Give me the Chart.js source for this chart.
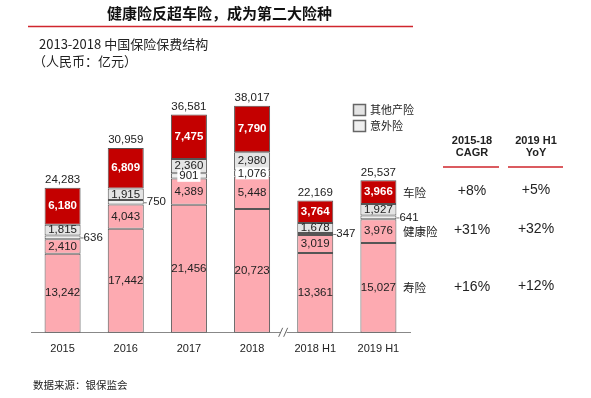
<!DOCTYPE html>
<html>
<head>
<meta charset="utf-8">
<script src="https://cdn.jsdelivr.net/npm/chart.js@4"></script>
<style>
  html, body { margin: 0; padding: 0; background: #fff; }
  #wrap { width: 591px; height: 398px; position: relative; }
</style>
</head>
<body>
<div id="wrap"><canvas id="myChart"></canvas></div>
<script>
var categories = ["2015", "2016", "2017", "2018", "2018 H1", "2019 H1"];
var lifeIns   = [13242, 17442, 21456, 20723, 13361, 15027];   // 寿险
var healthIns = [2410, 4043, 4389, 5448, 3019, 3976];         // 健康险
var accIns    = [636, 750, 901, 1076, 347, 641];              // 意外险
var otherIns  = [1815, 1915, 2360, 2980, 1678, 1927];         // 其他产险
var autoIns   = [6180, 6809, 7475, 7790, 3764, 3966];         // 车险
var yMax = 40000;

var rowNames = ["车险", "健康险", "寿险"];
var cagr = ["+8%", "+31%", "+16%"];
var yoy = ["+5%", "+32%", "+12%"];

var FONT = "'Liberation Sans', Arial, 'Noto Sans CJK SC', sans-serif";
var CJK = "'Noto Sans CJK SC', 'Liberation Sans', sans-serif";

function fmt(v) { return v.toLocaleString("en-US"); }

var labelPlugin = {
  id: "labels",
  afterDatasetsDraw: function(chart) {
    var ctx = chart.ctx;
    var xs = chart.scales.x, ys = chart.scales.y;
    var series = [lifeIns, healthIns, accIns, otherIns, autoIns];
    ctx.save();
    ctx.textBaseline = "middle";
    ctx.textAlign = "center";
    for (var i = 0; i < categories.length; i++) {
      var meta = chart.getDatasetMeta(0).data[i];
      var x = xs.getPixelForValue(i);
      var half = meta.width / 2;
      var cum = 0;
      for (var s = 0; s < series.length; s++) {
        var v = series[s][i];
        var mid = ys.getPixelForValue(cum + v / 2);
        cum += v;
        ctx.font = "11.5px " + FONT;
        if (s == 4) {
          ctx.fillStyle = "#fff";
          ctx.font = "bold 11.5px " + FONT;
          ctx.fillText(fmt(v), x, mid);
        } else if (s == 2) {
          if (i == 2 || i == 3) {
            var w = ctx.measureText(fmt(v)).width + 4;
            ctx.fillStyle = "#fff";
            ctx.fillRect(x - w / 2, mid - 6, w, 12);
            ctx.fillStyle = "#222";
            ctx.fillText(fmt(v), x, mid);
          } else {
            ctx.strokeStyle = "#777";
            ctx.lineWidth = 1;
            ctx.beginPath();
            ctx.moveTo(x + half, mid + 0.5);
            ctx.lineTo(x + half + 3, mid + 0.5);
            ctx.stroke();
            ctx.fillStyle = "#222";
            ctx.textAlign = "left";
            ctx.fillText(fmt(v), x + half + 3, mid);
            ctx.textAlign = "center";
          }
        } else {
          ctx.fillStyle = "#222";
          ctx.fillText(fmt(v), x, mid);
        }
      }
      ctx.fillStyle = "#222";
      ctx.font = "11.5px " + FONT;
      ctx.fillText(fmt(cum), x, ys.getPixelForValue(cum) - 8);
    }

    // axis break mark
    var bx = (xs.getPixelForValue(3) + xs.getPixelForValue(4)) / 2;
    var by = ys.getPixelForValue(0);
    ctx.fillStyle = "#fff";
    ctx.fillRect(bx - 3, by - 2, 6, 4);
    ctx.strokeStyle = "#666";
    ctx.lineWidth = 1;
    ctx.beginPath();
    ctx.moveTo(bx - 5, by + 4); ctx.lineTo(bx - 1, by - 5);
    ctx.moveTo(bx + 0, by + 4); ctx.lineTo(bx + 4, by - 5);
    ctx.stroke();

    // title
    ctx.textAlign = "left";
    ctx.fillStyle = "#111";
    ctx.font = "bold 15px " + CJK;
    ctx.fillText("健康险反超车险，成为第二大险种", 107, 13);
    ctx.strokeStyle = "#d0262d";
    ctx.lineWidth = 1.5;
    ctx.beginPath();
    ctx.moveTo(28, 26.5); ctx.lineTo(413, 26.5);
    ctx.stroke();

    ctx.fillStyle = "#222";
    ctx.font = "13px " + CJK;
    ctx.fillText("2013-2018 中国保险保费结构", 39, 44);
    ctx.fillText("（人民币：亿元）", 33, 61);

    ctx.font = "10.5px " + CJK;
    ctx.fillText("数据来源：银保监会", 33, 385);

    // legend for the two grey series
    var leg = [["其他产险", "#e4e4e4", 110], ["意外险", "#efefef", 126]];
    for (var k = 0; k < leg.length; k++) {
      ctx.fillStyle = leg[k][1];
      ctx.fillRect(353.5, leg[k][2] - 5.5, 12, 11);
      ctx.strokeStyle = "#666";
      ctx.strokeRect(353.5, leg[k][2] - 5.5, 12, 11);
      ctx.fillStyle = "#222";
      ctx.font = "11px " + CJK;
      ctx.fillText(leg[k][0], 370, leg[k][2]);
    }

    // series names right of last bar
    var last = categories.length - 1;
    var rowY = [
      ys.getPixelForValue(lifeIns[last] + healthIns[last] + accIns[last] + otherIns[last] + autoIns[last] / 2),
      ys.getPixelForValue(lifeIns[last] + healthIns[last] / 2),
      ys.getPixelForValue(lifeIns[last] / 2)
    ];
    for (var r = 0; r < rowNames.length; r++) {
      ctx.textAlign = "left";
      ctx.font = "11.5px " + CJK;
      ctx.fillStyle = "#222";
      ctx.fillText(rowNames[r], 403, rowY[r]);
      ctx.textAlign = "center";
      ctx.font = "14px " + FONT;
      ctx.fillText(cagr[r], 472, rowY[r] - 1);
      ctx.fillText(yoy[r], 536, rowY[r] - 2);
    }

    // table header
    ctx.font = "bold 11px " + FONT;
    ctx.fillText("2015-18", 472, 141);
    ctx.fillText("CAGR", 472, 153);
    ctx.fillText("2019 H1", 536, 141);
    ctx.fillText("YoY", 536, 153);
    ctx.strokeStyle = "#d0262d";
    ctx.lineWidth = 1.5;
    ctx.beginPath();
    ctx.moveTo(443, 167); ctx.lineTo(499, 167);
    ctx.moveTo(508, 167); ctx.lineTo(563, 167);
    ctx.stroke();
    ctx.restore();
  }
};

var pink = "#fdaab1";
var ctx = document.getElementById("myChart").getContext("2d");
var myChart = new Chart(ctx, {
  type: "bar",
  data: {
    labels: categories,
    datasets: [
      { label: "寿险", data: lifeIns, backgroundColor: pink },
      { label: "健康险", data: healthIns, backgroundColor: pink },
      { label: "意外险", data: accIns, backgroundColor: "#efefef" },
      { label: "其他产险", data: otherIns, backgroundColor: "#e4e4e4" },
      { label: "车险", data: autoIns, backgroundColor: "#c40000" }
    ].map(function(d) {
      d.borderColor = "#555";
      d.borderWidth = 1;
      d.borderSkipped = false;
      d.barPercentage = 0.57;
      d.categoryPercentage = 1;
      return d;
    })
  },
  options: {
    responsive: true,
    maintainAspectRatio: false,
    animation: false,
    layout: { padding: { left: 31, right: 181, top: 94, bottom: 40 } },
    plugins: { legend: { display: false }, tooltip: { enabled: false } },
    scales: {
      x: {
        stacked: true,
        grid: { display: false },
        border: { color: "#888", width: 1 },
        ticks: { color: "#222", font: { family: FONT, size: 11 }, padding: 2 }
      },
      y: {
        stacked: true,
        display: false,
        min: 0,
        max: yMax
      }
    }
  },
  plugins: [labelPlugin]
});
</script>
</body>
</html>
